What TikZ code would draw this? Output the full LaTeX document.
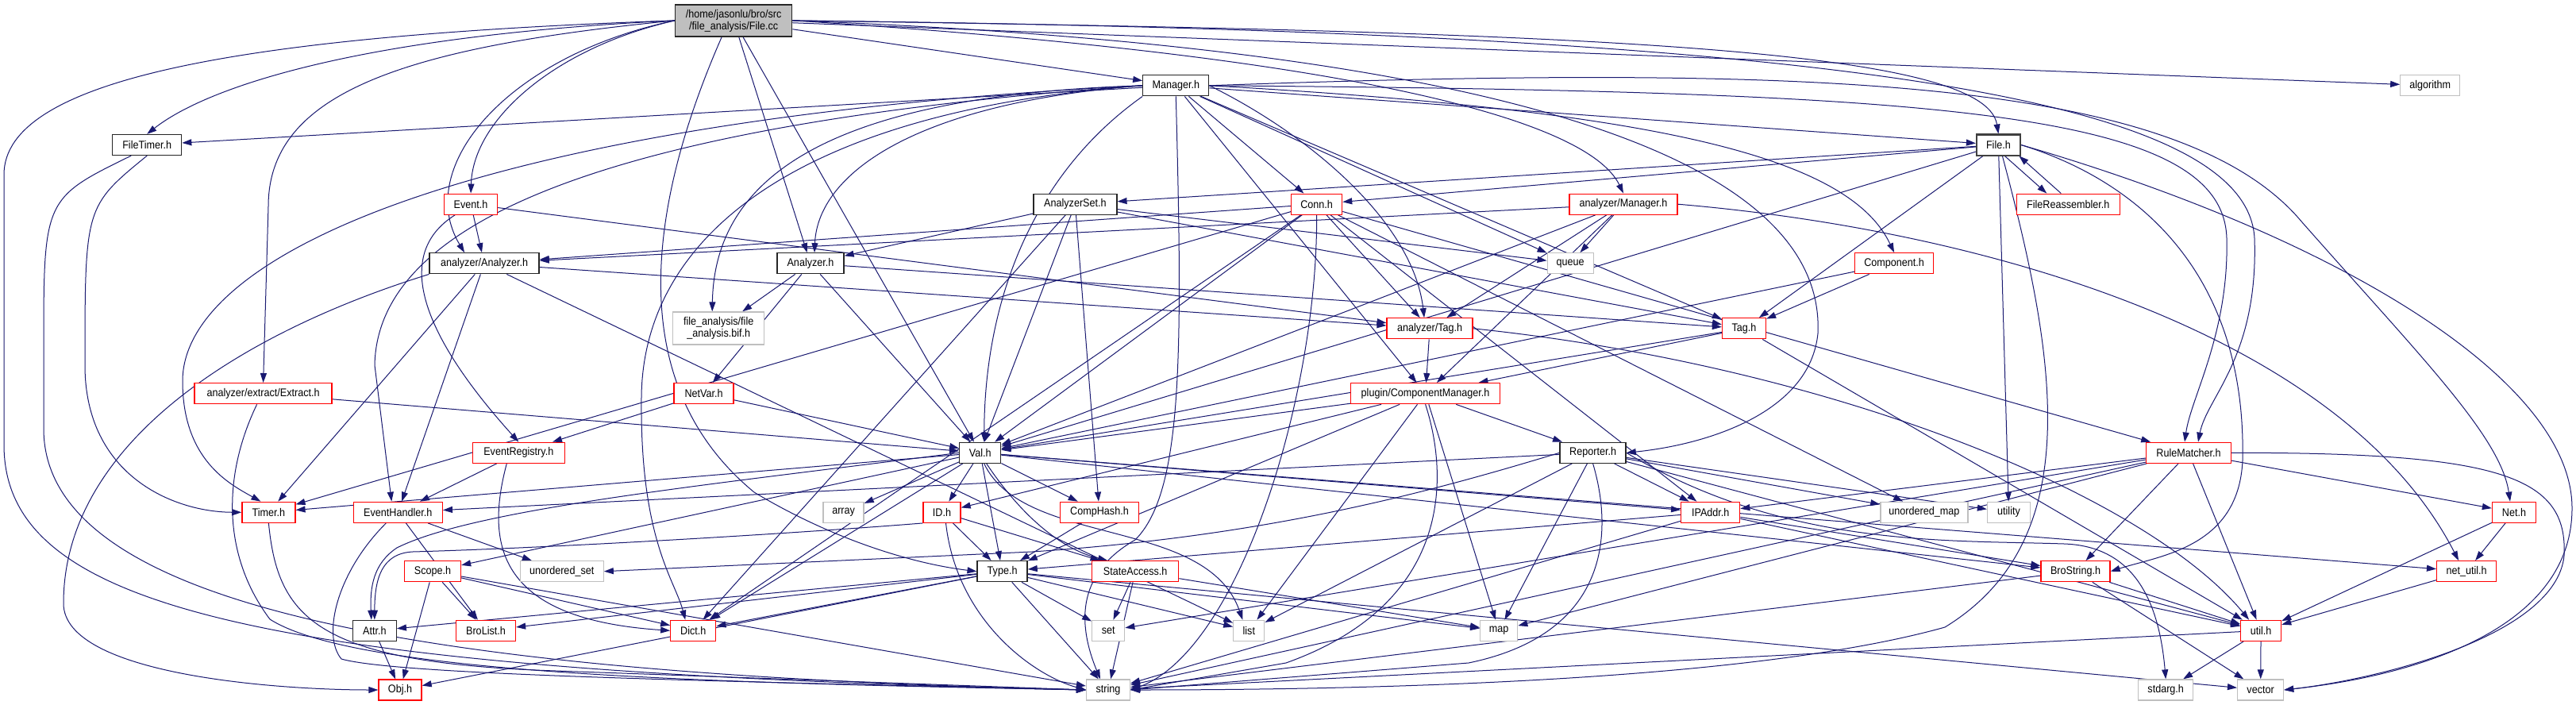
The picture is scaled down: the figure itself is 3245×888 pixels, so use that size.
\documentclass[tikz,border=0pt]{standalone}
\usepackage{fontspec}
\setmainfont{Liberation Sans}[FakeStretch=0.9]
\usetikzlibrary{arrows.meta}
\definecolor{edgeblue}{HTML}{191970}
\definecolor{nodegray}{HTML}{BFBFBF}
\pgfdeclarelayer{bg}
\pgfsetlayers{bg,main}
\tikzset{
 nbox/.style={rectangle, fill=white, line width=1.3pt, minimum height=26pt, inner sep=0pt, font=\fontsize{14}{15}\selectfont, text=black},
 dbox/.style={nbox, draw=black!85},
 rbox/.style={nbox, draw=red},
 gbox/.style={nbox, draw=nodegray},
 e/.style={draw=edgeblue, line width=1pt, -{Triangle[length=12pt,width=8pt]}},
}
\begin{document}
\begin{tikzpicture}[x=1pt,y=-1pt]
\useasboundingbox (0,0) rectangle (3245,888);
% nodes
\node[dbox, fill=nodegray, minimum width=147pt, minimum height=40pt, align=center] (fcc) at (924.2,25.9) {/home/jasonlu/bro/src\\/file\_analysis/File.cc};
\node[dbox, minimum width=83pt] (mgr) at (1481.3,107.8) {Manager.h};
\node[gbox, minimum width=75pt] (algorithm) at (3061.3,107.8) {algorithm};
\node[dbox, minimum width=87pt] (filetimer) at (185.2,182.5) {FileTimer.h};
\node[dbox, minimum width=55pt, line width=2pt, draw=black!75] (fileh) at (2517.4,182.5) {File.h};
\node[rbox, minimum width=67pt] (event) at (593.1,257.2) {Event.h};
\node[dbox, minimum width=105pt] (analyzerset) at (1354.4,257.2) {AnalyzerSet.h};
\node[rbox, minimum width=64pt] (conn) at (1658.6,257.2) {Conn.h};
\node[rbox, minimum width=136pt] (amgr) at (2045,257.2) {analyzer/Manager.h};
\node[rbox, minimum width=130pt] (filereasm) at (2605.3,257.2) {FileReassembler.h};
\node[dbox, minimum width=138pt] (aanalyzer) at (610.1,331.8) {analyzer/Analyzer.h};
\node[dbox, minimum width=84pt] (analyzer) at (1021,331.8) {Analyzer.h};
\node[gbox, minimum width=58pt] (queue) at (1978.2,331.8) {queue};
\node[rbox, minimum width=99pt] (component) at (2386.1,331.8) {Component.h};
\node[gbox, minimum width=115pt, minimum height=41pt, align=center] (bif) at (905.2,413.5) {file\_analysis/file\\\_analysis.bif.h};
\node[rbox, minimum width=108pt] (atag) at (1801.1,413.8) {analyzer/Tag.h};
\node[rbox, minimum width=55pt] (tag) at (2197,413.8) {Tag.h};
\node[rbox, minimum width=173pt] (extract) at (331.6,495.7) {analyzer/extract/Extract.h};
\node[rbox, minimum width=75pt] (netvar) at (886.6,495.7) {NetVar.h};
\node[rbox, minimum width=188pt] (compmgr) at (1795.6,495.7) {plugin/ComponentManager.h};
\node[rbox, minimum width=116pt] (eventreg) at (653.3,570.3) {EventRegistry.h};
\node[dbox, minimum width=52pt] (val) at (1234.7,570.3) {Val.h};
\node[dbox, minimum width=83pt] (reporter) at (2006.6,570.3) {Reporter.h};
\node[rbox, minimum width=107pt] (rulematcher) at (2757,570.3) {RuleMatcher.h};
\node[rbox, minimum width=67pt] (timer) at (338.4,645.3) {Timer.h};
\node[rbox, minimum width=112pt] (eventhandler) at (501.3,645.3) {EventHandler.h};
\node[gbox, minimum width=51pt] (array) at (1062.6,645.3) {array};
\node[rbox, minimum width=47pt] (id) at (1186.5,645.3) {ID.h};
\node[rbox, minimum width=99pt] (comphash) at (1385,645.3) {CompHash.h};
\node[rbox, minimum width=74pt] (ipaddr) at (2154.7,645.3) {IPAddr.h};
\node[gbox, minimum width=110pt] (umap) at (2423.9,645.3) {unordered\_map};
\node[gbox, minimum width=54pt] (utility) at (2530.5,645.3) {utility};
\node[rbox, minimum width=55pt] (net) at (3167,645.3) {Net.h};
\node[rbox, minimum width=71pt] (scope) at (545,719.7) {Scope.h};
\node[gbox, minimum width=105pt] (uset) at (707.7,719.7) {unordered\_set};
\node[dbox, minimum width=63pt] (type) at (1262.6,719.7) {Type.h};
\node[rbox, minimum width=109pt] (stateaccess) at (1430.2,719.7) {StateAccess.h};
\node[rbox, minimum width=87pt] (brostring) at (2614.5,719.7) {BroString.h};
\node[rbox, minimum width=75pt] (netutil) at (3107.1,719.7) {net\_util.h};
\node[dbox, minimum width=55pt] (attr) at (471.8,794.3) {Attr.h};
\node[rbox, minimum width=75pt] (brolist) at (612,794.3) {BroList.h};
\node[rbox, minimum width=57pt] (dict) at (873.3,794.3) {Dict.h};
\node[gbox, minimum width=41pt] (set) at (1396.2,794.3) {set};
\node[gbox, minimum width=39pt] (list) at (1573.3,794.3) {list};
\node[gbox, minimum width=47pt] (map) at (1888.2,794.3) {map};
\node[rbox, minimum width=51pt] (util) at (2848.1,794.3) {util.h};
\node[rbox, minimum width=54pt] (obj) at (504,869) {Obj.h};
\node[gbox, minimum width=55pt] (string) at (1396,869) {string};
\node[gbox, minimum width=69pt] (stdarg) at (2728.2,869) {stdarg.h};
\node[gbox, minimum width=58pt] (vector) at (2847.6,869) {vector};
\begin{pgfonlayer}{bg}
\fill[white] (0,0) rectangle (3245,888);
% straight edges
\foreach \a/\b in {
fcc/algorithm, fcc/analyzer, fcc/mgr, fcc/val,
mgr/filetimer, mgr/fileh, mgr/conn, mgr/queue, mgr/tag, mgr/compmgr,
fileh/conn, fileh/analyzerset, fileh/tag, fileh/val, fileh/utility,
event/aanalyzer, event/atag,
analyzerset/analyzer, analyzerset/dict, analyzerset/comphash, analyzerset/val, analyzerset/tag, analyzerset/queue,
conn/aanalyzer, conn/timer, conn/val, conn/dict, conn/atag, conn/ipaddr, conn/rulematcher, conn/umap,
amgr/aanalyzer, amgr/queue, amgr/atag, amgr/compmgr, amgr/val,
aanalyzer/atag, aanalyzer/timer, aanalyzer/eventhandler, aanalyzer/list,
analyzer/bif, analyzer/netvar, analyzer/val, analyzer/tag,
component/tag, component/val,
atag/compmgr, tag/compmgr, tag/util, tag/val,
extract/val, netvar/val, netvar/eventreg,
compmgr/reporter, compmgr/val, compmgr/id, compmgr/type, compmgr/list, compmgr/map,
eventreg/eventhandler,
val/timer, val/scope, val/dict, val/array, val/id, val/type, val/comphash, val/ipaddr, val/brostring, val/netutil,
reporter/ipaddr, reporter/map, reporter/list, reporter/umap, reporter/utility, reporter/util, reporter/eventhandler,
rulematcher/ipaddr, rulematcher/brostring, rulematcher/util, rulematcher/net, rulematcher/set, rulematcher/map, rulematcher/string,
eventhandler/brolist, eventhandler/uset,
id/type, id/stateaccess,
comphash/type,
ipaddr/type, ipaddr/string, ipaddr/brostring, ipaddr/util,
net/netutil, net/util,
scope/dict, scope/brolist, scope/obj, scope/string,
type/attr, type/brolist, type/dict, type/obj, type/set, type/list, type/map, type/string, type/vector,
stateaccess/set, stateaccess/string, stateaccess/map,
brostring/util, brostring/vector, brostring/string,
netutil/util, attr/obj,
util/stdarg, util/vector, util/string}
{\draw[e] (\a) -- (\b);}
% curved edges
\draw[e] (fcc.east) .. controls (2000,40) and (2500,60) .. (fileh.north);
\draw[e] (fcc.west) .. controls (300,45) and (5,100) .. (5,220) -- (5,560) .. controls (5,760) and (300,845) .. (string.west);
\draw[e] (fcc.west) .. controls (450,45) and (260,110) .. (filetimer.north);
\draw[e] (fcc.west) .. controls (500,60) and (338,120) .. (338,260) -- (extract.north);
\draw[e] (fcc.west) .. controls (700,60) and (596,150) .. (event.north);
\draw[e] (fcc.west) .. controls (640,70) and (520,210) .. ([xshift=-25pt]aanalyzer.north);
\draw[e] ([xshift=-15pt]fcc.south) .. controls (820,250) and (780,480) .. (950,620) .. controls (1050,680) and (1150,710) .. (type.west);
\draw[e] (fcc.east) .. controls (1900,60) and (2300,200) .. (2290,420) .. controls (2280,520) and (2150,560) .. (reporter.east);
\draw[e] (fcc.east) .. controls (1700,70) and (2000,150) .. (amgr.north);
\draw[e] (fcc.east) .. controls (2300,40) and (2830,120) .. (2840,300) .. controls (2845,450) and (2780,500) .. ([xshift=12pt]rulematcher.north);
\draw[e] (mgr.east) .. controls (2450,115) and (2800,140) .. (2805,300) .. controls (2808,420) and (2760,500) .. ([xshift=-5pt]rulematcher.north);
\draw[e] (mgr.west) .. controls (1150,130) and (1030,220) .. ([xshift=5pt]analyzer.north);
\draw[e] (mgr.south west) .. controls (1300,220) and (1240,380) .. ([xshift=5pt]val.north);
\draw[e] (mgr.west) .. controls (1000,140) and (810,300) .. (808,500) .. controls (806,680) and (850,730) .. ([xshift=-10pt]dict.north);
\draw[e] (mgr.west) .. controls (600,150) and (230,320) .. (230,480) .. controls (230,580) and (290,610) .. ([xshift=-10pt]timer.north);
\draw[e] (mgr.west) .. controls (700,160) and (475,300) .. (472,460) -- ([xshift=-8pt]eventhandler.north);
\draw[e] (mgr.east) .. controls (2300,80) and (2750,100) .. (2900,280) .. controls (3050,450) and (3150,550) .. ([xshift=-5pt]net.north);
\draw[e] (mgr.west) .. controls (1050,120) and (900,220) .. ([xshift=-8pt]bif.north);
\draw[e] (mgr.south) .. controls (1490,450) and (1490,620) .. (1430,680) .. controls (1360,720) and (1355,780) .. ([xshift=-10pt]string.north);
\draw[e] (mgr.east) .. controls (2100,140) and (2330,200) .. (component.north);
\draw[e] (mgr.east) .. controls (1650,170) and (1780,280) .. ([xshift=-7pt]atag.north);
\draw[e] (filetimer.south) .. controls (107,260) .. (107,460) .. controls (107,600) and (220,645) .. (timer.west);
\draw[e] ([xshift=-20pt]filetimer.south) .. controls (55,250) .. (55,440) -- (55,540) .. controls (55,780) and (600,850) .. (string.west);
\draw[e] ([xshift=8pt]fileh.south) -- ([xshift=-27pt]filereasm.north);
\draw[e] ([xshift=-9pt]filereasm.north) -- ([xshift=26pt]fileh.south);
\draw[e] ([xshift=5pt]fileh.south) .. controls (2590,450) and (2630,680) .. (2450,790) .. controls (2200,860) and (1700,869) .. (string.east);
\draw[e] (fileh.east) .. controls (2700,230) and (2830,350) .. (2825,580) .. controls (2820,690) and (2720,700) .. (brostring.east);
\draw[e] (fileh.east) .. controls (2950,300) and (3240,480) .. (3240,640) .. controls (3240,790) and (3050,850) .. (vector.east);
\draw[e] (rulematcher.east) .. controls (3150,570) and (3235,600) .. (3230,700) .. controls (3220,800) and (3000,855) .. (vector.east);
\draw[e] ([xshift=-20pt]event.south) .. controls (495,320) and (530,420) .. (eventreg.north);
\draw[e] (conn.south) .. controls (1660,500) and (1560,820) .. (string.east);
\draw[e] (amgr.east) .. controls (2500,290) and (2950,420) .. ([xshift=-10pt]netutil.north);
\draw[e] (aanalyzer.south west) .. controls (300,420) and (80,560) .. (80,760) .. controls (80,850) and (350,869) .. (obj.west);
\draw[e] (atag.east) .. controls (2300,460) and (2700,620) .. ([xshift=-15pt]util.north);
\draw[e] ([xshift=-8pt]extract.south) .. controls (280,600) and (280,700) .. (340,780) .. controls (450,850) and (900,860) .. (string.west);
\draw[e] (timer.south) .. controls (350,780) and (400,835) .. (700,845) -- (string.west);
\draw[e] ([xshift=-15pt]eventhandler.south) .. controls (425,720) and (405,800) .. (430,830) .. controls (500,850) and (900,858) .. (string.west);
\draw[e] (compmgr.south) .. controls (1825,600) and (1830,760) .. (1620,835) -- (string.east);
\draw[e] ([xshift=-15pt]eventreg.south) .. controls (610,690) and (630,780) .. (dict.west);
\draw[e] (reporter.south) .. controls (2035,680) and (2020,800) .. (1850,835) -- (string.east);
\draw[e] (reporter.east) .. controls (2250,690) and (2450,680) .. (2600,685) .. controls (2690,688) and (2720,760) .. (stdarg.north);
\draw[e] (reporter.west) .. controls (1800,620) and (1600,675) .. (1300,695) -- (uset.east);
\draw[e] (id.south west) .. controls (1000,672) and (700,690) .. (520,695) .. controls (480,697) and (472,730) .. (attr.north);
\draw[e] (val.west) .. controls (900,610) and (600,640) .. (500,690) .. controls (470,710) and (466,740) .. ([xshift=-4pt]attr.north);
\draw[e] ([xshift=5pt]id.south) .. controls (1205,780) and (1300,850) .. (string.west);
\draw[e] ([xshift=5pt]val.south) .. controls (1290,690) and (1520,650) .. ([xshift=-8pt]list.north);
\draw[e] ([xshift=8pt]val.south) .. controls (1280,640) and (1330,690) .. ([xshift=-35pt]stateaccess.north);
\end{pgfonlayer}
\end{tikzpicture}
\end{document}
